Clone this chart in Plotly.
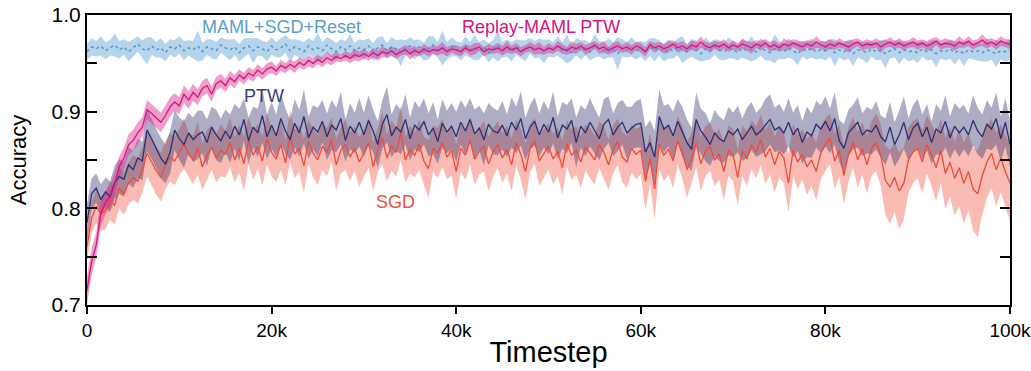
import plotly.graph_objects as go
import sys

# Timesteps (every 500 steps from 0 to 100k)
timesteps = list(range(0, 100001, 500))

# ---- Series values (accuracy x 1000) ----
maml_reset_mean = [
    962, 967, 965, 968, 963, 966, 969, 964, 967, 962, 966, 970, 965, 963, 968, 964, 966, 961, 967, 965,
    969, 963, 966, 964, 968, 962, 967, 965, 963, 969, 966, 964, 967, 961, 966, 968, 963, 967, 965, 962,
    968, 964, 966, 970, 963, 967, 965, 962, 968, 964, 966, 963, 969, 965, 962, 967, 964, 968, 963, 966,
    964, 968, 962, 966, 969, 963, 967, 965, 961, 966, 968, 964, 967, 962, 966, 969, 964, 966, 963, 967,
    965, 962, 968, 964, 966, 963, 967, 961, 965, 968, 964, 966, 962, 967, 965, 963, 968, 964, 966, 962,
    966, 964, 968, 963, 965, 961, 967, 964, 966, 962, 968, 965, 963, 966, 964, 960, 966, 964, 967, 963,
    965, 962, 967, 964, 966, 961, 965, 963, 967, 964, 962, 966, 964, 960, 965, 963, 967, 964, 962, 966,
    964, 961, 966, 963, 965, 962, 967, 963, 961, 965, 964, 962, 966, 963, 960, 965, 963, 966, 962, 964,
    963, 966, 961, 964, 962, 965, 960, 964, 963, 961, 965, 962, 964, 960, 963, 965, 961, 964, 962, 963,
    961, 965, 962, 964, 960, 963, 962, 965, 961, 963, 960, 964, 962, 963, 961, 964, 962, 960, 963, 962, 964,
]
maml_reset_hw = [
    8, 9, 8, 10, 9, 8, 12, 9, 8, 10, 9, 8, 9, 14, 9, 8, 10, 9, 8, 9,
    9, 10, 8, 9, 16, 9, 8, 10, 9, 8, 9, 11, 8, 9, 10, 8, 13, 9, 8, 10,
    9, 8, 10, 9, 12, 8, 9, 10, 8, 9, 15, 9, 8, 10, 9, 8, 9, 12, 8, 9,
    10, 8, 9, 11, 9, 8, 10, 9, 14, 8, 9, 10, 8, 9, 12, 9, 8, 18, 9, 10,
    8, 9, 10, 8, 13, 9, 8, 10, 9, 16, 8, 9, 10, 8, 9, 11, 8, 9, 10, 12,
    9, 8, 10, 9, 15, 8, 9, 10, 8, 9, 12, 8, 9, 10, 8, 17, 9, 8, 10, 9,
    8, 10, 9, 12, 8, 9, 10, 8, 9, 14, 8, 9, 10, 8, 12, 9, 8, 10, 9, 11,
    9, 8, 10, 9, 13, 8, 9, 10, 8, 15, 9, 8, 10, 9, 12, 8, 9, 10, 8, 9,
    10, 9, 14, 8, 9, 10, 13, 8, 9, 11, 8, 9, 10, 15, 8, 9, 12, 8, 10, 9,
    11, 8, 9, 10, 14, 8, 9, 10, 12, 8, 13, 9, 8, 10, 9, 12, 8, 14, 9, 10, 11,
]

replay_ptw_mean = [
    715, 745, 762, 795, 806, 812, 825, 843, 852, 866, 870, 878, 884, 902, 898, 893, 889, 896, 905, 910,
    906, 918, 912, 920, 915, 924, 927, 918, 929, 932, 927, 935, 931, 938, 934, 940, 937, 943, 939, 944,
    946, 942, 948, 945, 949, 946, 951, 948, 953, 950, 954, 951, 956, 953, 957, 955, 958, 955, 959, 957,
    960, 957, 961, 958, 962, 960, 963, 959, 962, 964, 960, 963, 961, 965, 962, 964, 963, 966, 962, 965,
    964, 962, 966, 963, 965, 967, 962, 965, 964, 966, 963, 967, 964, 966, 962, 965, 967, 964, 966, 963,
    966, 964, 968, 965, 963, 967, 965, 968, 964, 966, 969, 965, 967, 963, 966, 968, 965, 967, 964, 968,
    966, 962, 969, 966, 968, 965, 967, 970, 966, 968, 965, 969, 967, 972, 968, 966, 969, 967, 970, 966,
    969, 967, 970, 968, 966, 970, 968, 971, 967, 969, 966, 970, 968, 971, 969, 967, 970, 968, 972, 969,
    967, 970, 968, 971, 969, 967, 970, 972, 968, 970, 969, 971, 967, 970, 972, 969, 971, 968, 970, 972,
    969, 971, 968, 970, 973, 969, 971, 970, 968, 972, 970, 973, 969, 971, 974, 970, 972, 969, 973, 971, 970,
]
replay_ptw_hw = [
    14, 14, 13, 13, 12, 12, 12, 11, 11, 11, 11, 11, 10, 10, 10, 10, 10, 10, 10, 9,
    9, 9, 9, 9, 8, 8, 8, 8, 7, 7, 7, 7, 7, 6, 6, 6, 6, 6, 6, 6,
    6, 5, 6, 5, 5, 6, 5, 5, 6, 5, 5, 5, 6, 5, 5, 4, 5, 5, 6, 5,
    5, 4, 5, 5, 6, 4, 5, 5, 4, 5, 6, 5, 4, 5, 5, 4, 5, 6, 5, 4,
    5, 5, 4, 5, 6, 4, 5, 5, 4, 5, 5, 6, 4, 5, 5, 4, 5, 5, 6, 4,
    5, 4, 5, 5, 4, 6, 5, 4, 5, 5, 4, 5, 6, 4, 5, 5, 4, 5, 5, 4,
    5, 5, 4, 5, 4, 5, 6, 4, 5, 5, 4, 5, 5, 6, 4, 5, 4, 5, 5, 4,
    5, 4, 5, 5, 6, 4, 5, 4, 5, 5, 4, 6, 5, 4, 5, 5, 4, 5, 6, 4,
    5, 5, 4, 5, 4, 6, 5, 4, 5, 5, 4, 5, 6, 4, 5, 4, 5, 5, 4, 5,
    5, 4, 5, 6, 4, 5, 5, 4, 5, 6, 4, 5, 5, 4, 6, 5, 4, 5, 5, 4, 5,
]

ptw_mean = [
    785, 815, 821, 809, 817, 812, 827, 833, 830, 845, 840, 852, 849, 881, 872, 862, 852, 846, 858, 881,
    872, 866, 878, 871, 876, 879, 868, 884, 876, 870, 880, 872, 885, 876, 892, 870, 884, 878, 896, 874,
    886, 875, 893, 880, 871, 888, 878, 895, 873, 884, 879, 890, 874, 886, 881, 893, 870, 885, 878, 889,
    876, 891, 880, 866, 887, 897, 875, 884, 879, 892, 872, 886, 881, 890, 876, 883, 869, 888, 879, 885,
    874, 889, 880, 892, 877, 883, 871, 887, 880, 878, 886, 875, 889, 881, 893, 872, 884, 890, 876, 887,
    879, 894, 873, 886, 882, 891, 868, 885, 878, 889, 880, 872, 887, 892, 876, 884, 889, 878, 883, 887,
    888, 858, 868, 853, 895, 882, 886, 875, 890, 879, 868, 861, 892, 880, 874, 866, 878, 872, 869, 880,
    876, 882, 871, 878, 885, 876, 880, 886, 892, 881, 884, 878, 889, 876, 883, 868, 879, 875, 887, 882,
    890, 880, 893, 870, 862, 878, 884, 889, 876, 881, 879, 886, 874, 869, 884, 866, 876, 889, 871, 883,
    888, 874, 884, 868, 882, 878, 890, 873, 885, 878, 884, 876, 891, 880, 874, 887, 882, 893, 872, 889, 866,
]
ptw_hw = [
    20, 16, 15, 16, 15, 16, 17, 18, 18, 19, 19, 20, 20, 22, 21, 20, 21, 20, 22, 21,
    22, 24, 21, 23, 25, 22, 24, 21, 26, 23, 22, 25, 23, 27, 22, 24, 21, 25, 28, 23,
    24, 22, 26, 23, 21, 25, 24, 28, 22, 23, 25, 22, 24, 26, 23, 27, 22, 24, 21, 25,
    23, 26, 22, 24, 25, 29, 22, 24, 23, 26, 22, 25, 23, 24, 22, 27, 23, 25, 22, 24,
    26, 23, 24, 22, 25, 23, 27, 22, 24, 23, 25, 22, 26, 24, 28, 22, 23, 25, 22, 24,
    23, 27, 22, 24, 25, 23, 26, 22, 24, 25, 23, 22, 26, 24, 22, 25, 23, 27, 22, 24,
    25, 26, 23, 27, 28, 24, 22, 25, 23, 26, 24, 22, 28, 23, 25, 22, 24, 23, 22, 25,
    23, 24, 22, 26, 25, 23, 24, 27, 26, 23, 24, 22, 25, 23, 24, 22, 26, 23, 24, 25,
    26, 23, 27, 22, 25, 24, 23, 26, 22, 24, 23, 25, 22, 24, 26, 23, 25, 27, 22, 24,
    25, 23, 24, 22, 26, 23, 27, 22, 24, 25, 23, 22, 26, 24, 23, 25, 22, 27, 23, 25, 24,
]

sgd_mean = [
    760, 790, 802, 794, 798, 808, 803, 821, 815, 826, 832, 828, 840, 857, 848, 839, 832, 845, 853, 849,
    858, 867, 856, 850, 862, 843, 855, 863, 852, 860, 856, 868, 850, 862, 846, 870, 855, 864, 849, 872,
    858, 851, 866, 847, 875, 856, 862, 844, 869, 857, 850, 864, 858, 871, 845, 860, 866, 853, 862, 848,
    857, 868, 843, 860, 873, 852, 865, 858, 878, 850, 861, 855, 866, 849, 841, 862, 857, 868, 853, 860,
    838, 862, 855, 870, 851, 859, 864, 846, 858, 866, 852, 861, 845, 868, 856, 838, 862, 870, 849, 857,
    864, 851, 859, 842, 867, 855, 860, 848, 863, 857, 850, 866, 858, 845, 861, 869, 853, 848, 862, 856,
    860, 828, 852, 820, 866, 855, 861, 849, 870, 858, 840, 852, 868, 846, 859, 864, 850, 856, 838, 860,
    855, 832, 860, 851, 866, 858, 871, 853, 862, 845, 859, 852, 826, 860, 848, 856, 843, 850, 838, 857,
    866, 872, 849, 860, 834, 856, 868, 850, 862, 845, 862, 868, 855, 829, 822, 832, 818, 826, 850, 858,
    862, 848, 866, 855, 842, 860, 836, 848, 831, 842, 826, 838, 820, 815, 834, 848, 857, 840, 852, 838, 826,
]
sgd_hw = [
    15, 16, 17, 18, 19, 20, 20, 21, 22, 22, 23, 23, 24, 24, 24, 25, 25, 25, 25, 25,
    24, 26, 23, 25, 27, 24, 26, 23, 25, 27, 24, 26, 23, 25, 28, 24, 26, 23, 25, 27,
    25, 24, 26, 23, 27, 25, 24, 28, 23, 25, 26, 24, 25, 23, 27, 24, 26, 25, 23, 26,
    24, 26, 25, 23, 27, 24, 26, 25, 28, 24, 25, 23, 26, 25, 30, 24, 26, 25, 23, 26,
    28, 24, 26, 25, 27, 24, 26, 28, 25, 24, 26, 25, 27, 24, 26, 29, 25, 24, 26, 25,
    24, 26, 25, 28, 24, 26, 25, 27, 24, 26, 25, 24, 27, 26, 25, 24, 26, 27, 25, 26,
    25, 30, 26, 32, 25, 27, 26, 28, 25, 27, 29, 26, 25, 28, 26, 25, 27, 26, 30, 26,
    27, 29, 26, 28, 25, 27, 26, 28, 27, 29, 27, 26, 30, 27, 28, 26, 29, 27, 30, 28,
    27, 26, 29, 27, 30, 28, 26, 29, 27, 30, 28, 30, 32, 36, 38, 36, 40, 37, 34, 32,
    31, 33, 30, 32, 35, 33, 37, 36, 38, 40, 42, 40, 43, 45, 40, 37, 36, 38, 35, 37, 40,
]

x_tickvals = [0, 20000, 40000, 60000, 80000, 100000]
x_ticktext = ["0", "20k", "40k", "60k", "80k", "100k"]
y_tickvals = [0.7, 0.75, 0.8, 0.85, 0.9, 0.95, 1.0]
y_ticktext = ["0.7", "", "0.8", "", "0.9", "", "1.0"]

series = [
    ("SGD", sgd_mean, sgd_hw, "#f0493a", "rgba(240,85,65,0.40)", "solid", 1.3),
    ("PTW", ptw_mean, ptw_hw, "#2c2e70", "rgba(50,50,110,0.40)", "solid", 1.3),
    ("MAML+SGD+Reset", maml_reset_mean, maml_reset_hw, "#4a94c6", "rgba(110,170,215,0.50)", "dot", 1.4),
    ("Replay-MAML PTW", replay_ptw_mean, replay_ptw_hw, "#d6137f", "rgba(220,40,140,0.45)", "solid", 1.3),
]

for name, m, h, *_ in series:
    if len(m) != len(timesteps) or len(h) != len(timesteps):
        print(name, len(m), len(h), file=sys.stderr)

fig = go.Figure()

for name, m, h, lc, fc, dash, lw in series:
    n = min(len(m), len(h), len(timesteps))
    xs = timesteps[:n]
    mean = [v / 1000 for v in m[:n]]
    hw = [v / 1000 for v in h[:n]]
    upper = [a + b for a, b in zip(mean, hw)]
    lower = [a - b for a, b in zip(mean, hw)]
    fig.add_trace(go.Scatter(
        x=xs + xs[::-1], y=upper + lower[::-1], fill="toself",
        fillcolor=fc, line=dict(width=0), hoverinfo="skip", showlegend=False,
    ))

for name, m, h, lc, fc, dash, lw in series:
    n = min(len(m), len(timesteps))
    xs = timesteps[:n]
    mean = [v / 1000 for v in m[:n]]
    fig.add_trace(go.Scatter(
        x=xs, y=mean, mode="lines", name=name,
        line=dict(color=lc, width=lw, dash=dash), showlegend=False,
    ))

font_family = "Liberation Sans, Arial, sans-serif"
labels = [
    ("MAML+SGD+Reset", 21100, 0.9876, "#5a9fcc"),
    ("Replay-MAML PTW", 49200, 0.9876, "#d6137f"),
    ("PTW", 19200, 0.9160, "#3a3c7a"),
    ("SGD", 33400, 0.8066, "#f0503c"),
]
for text, lx, ly, col in labels:
    fig.add_annotation(x=lx, y=ly, xref="x", yref="y", text=text, showarrow=False,
                       font=dict(family=font_family, size=18, color=col))

fig.update_layout(
    width=1031, height=371,
    margin=dict(l=87, r=21, t=15, b=66),
    paper_bgcolor="white", plot_bgcolor="white",
    font=dict(family=font_family, color="black"),
)
fig.update_xaxes(
    range=[0, 100000], tickvals=x_tickvals, ticktext=x_ticktext, automargin=False,
    ticklabeloverflow="allow",
    showgrid=False, zeroline=False, showline=True, linecolor="black", linewidth=2,
    mirror=True, ticks="outside", ticklen=7, tickwidth=2, tickcolor="black",
    tickfont=dict(size=19, family=font_family),
    title=dict(text="Timestep", font=dict(size=29, family=font_family), standoff=2),
)
fig.update_yaxes(
    range=[0.7, 1.0], tickvals=y_tickvals, ticktext=y_ticktext, automargin=False,
    ticklabeloverflow="allow",
    showgrid=False, zeroline=False, showline=True, linecolor="black", linewidth=2,
    mirror="ticks", ticks="inside", ticklen=10, tickwidth=2, tickcolor="black",
    tickfont=dict(size=21, family=font_family),
    title=dict(text="Accuracy", font=dict(size=22, family=font_family), standoff=19),
)

fig.write_html("out.html")
